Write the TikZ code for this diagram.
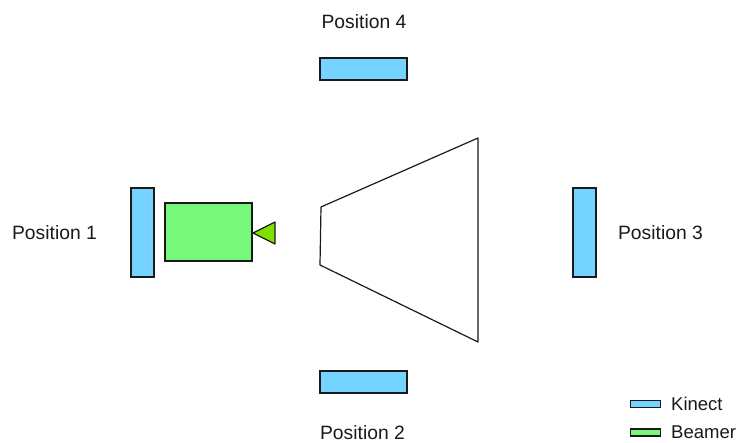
\documentclass[tikz,border=0pt]{standalone}
\usepackage{fontspec}
\setmainfont{Liberation Sans}
\definecolor{kinectblue}{HTML}{75D4FF}
\definecolor{beamergreen}{HTML}{78F87B}
\definecolor{lensgreen}{HTML}{80E000}
\definecolor{ink}{HTML}{1A1A1A}
\begin{document}
\begin{tikzpicture}[x=1pt,y=-1pt,
  every node/.style={font=\fontsize{18.5}{22}\selectfont, text=ink},
  kinect/.style={draw=ink, fill=kinectblue, line width=1.2pt, inner sep=0pt, outer sep=0pt},
  beamer/.style={draw=ink, fill=beamergreen, line width=1.2pt, inner sep=0pt, outer sep=0pt},
  lbl/.style={inner sep=0pt},
  poslbl/.style={lbl, font=\fontsize{19.3}{23}\selectfont}]
\useasboundingbox (0,0) rectangle (740,443);
\fill[white] (0,0) rectangle (740,443);

% Kinect sensors around the stage
\node[kinect, minimum width=23pt, minimum height=89pt] (k1) at (142.5,232.5) {};
\node[kinect, minimum width=87pt, minimum height=22pt] (k2) at (363.5,382) {};
\node[kinect, minimum width=23pt, minimum height=89pt] (k3) at (584.5,232.5) {};
\node[kinect, minimum width=87pt, minimum height=22pt] (k4) at (363.5,69) {};

% Beamer with its lens
\node[beamer, minimum width=87pt, minimum height=58pt] (bm) at (208.5,232) {};
\coordinate (lens) at (253,233);
\filldraw[draw=ink, fill=lensgreen, line width=1.2pt, line join=round]
  (lens) -- (275,222) -- (275,244) -- cycle;

% Projection area
\draw[ink, line width=1.2pt, line join=round]
  (321,207) -- (478,138) -- (478,342) -- (320,265) -- cycle;

% Position labels
\node[poslbl] (p1) at (54.5,233) {Position 1};
\node[poslbl] (p2) at (362.5,433) {Position 2};
\node[poslbl] (p3) at (660.5,233) {Position 3};
\node[poslbl] (p4) at (364,22) {Position 4};

% Legend
\node[kinect, minimum width=30pt, minimum height=7pt] (lk) at (645.5,404) {};
\node[lbl, anchor=west] (lkt) at (671,404) {Kinect};
\node[beamer, minimum width=30pt, minimum height=7pt] (lb) at (645.5,432.5) {};
\node[lbl, anchor=west] (lbt) at (671,432.5) {Beamer};
\end{tikzpicture}
\end{document}
